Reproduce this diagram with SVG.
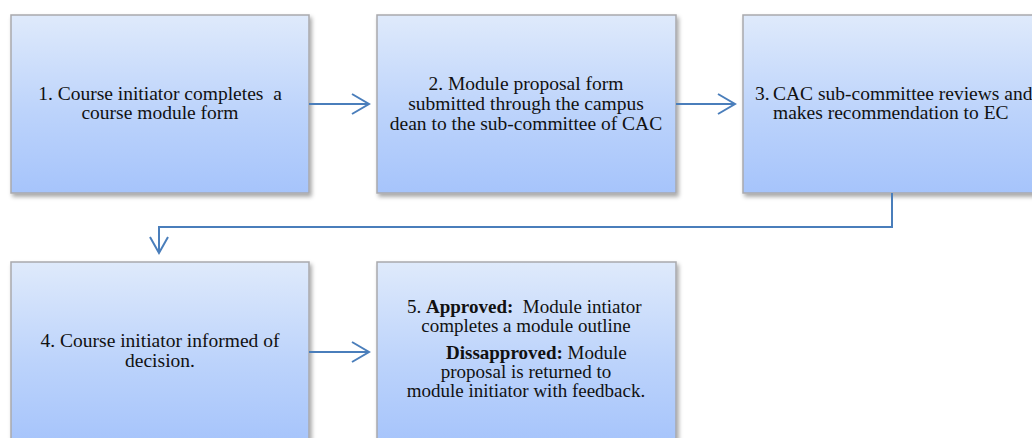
<svg xmlns="http://www.w3.org/2000/svg" width="1032" height="438" viewBox="0 0 1032 438" xml:space="preserve">
<defs>
<linearGradient id="g" x1="0" y1="0" x2="0" y2="1">
<stop offset="0" stop-color="#dfeafb"/>
<stop offset="0.55" stop-color="#bcd3fb"/>
<stop offset="1" stop-color="#a6c4fb"/>
</linearGradient>
<filter id="sh" x="-5%" y="-5%" width="115%" height="115%">
<feDropShadow dx="2" dy="3" stdDeviation="2" flood-color="#000" flood-opacity="0.35"/>
</filter>
</defs>
<style>
.box{fill:url(#g);stroke:#a9a9ad;stroke-width:1.5;filter:url(#sh)}
.t{font-family:"Liberation Serif","DejaVu Serif",serif;font-size:19.5px;fill:#111;white-space:pre}
.s{font-size:19px}
.c{text-anchor:middle}
.b{font-weight:bold}
.ln{fill:none;stroke:#4a7ebb;stroke-width:2}
</style>
<rect width="1032" height="438" fill="#fff"/>
<g id="node1">
<rect class="box" x="11" y="15" width="298" height="178"/>
<text class="t c" x="160" y="100">1. Course initiator completes  a</text>
<text class="t c" x="160" y="119">course module form</text>
</g>
<g id="node2">
<rect class="box" x="377" y="15" width="299" height="178"/>
<text class="t c" x="526" y="90">2. Module proposal form</text>
<text class="t c" x="526" y="110">submitted through the campus</text>
<text class="t c" x="526" y="130">dean to the sub-committee of CAC</text>
</g>
<g id="node3">
<rect class="box" x="743" y="15" width="299" height="178"/>
<text class="t" x="755" y="100">3.</text>
<text class="t" x="773" y="100">CAC sub-committee reviews and</text>
<text class="t" x="773" y="119">makes recommendation to EC</text>
</g>
<g id="node4">
<rect class="box" x="11" y="262" width="298" height="182"/>
<text class="t c" x="160" y="347">4. Course initiator informed of</text>
<text class="t c" x="160" y="367">decision.</text>
</g>
<g id="node5">
<rect class="box" x="377" y="262" width="299" height="182"/>
<text class="t s" x="407" y="313">5. <tspan class="b">Approved:</tspan>  Module intiator</text>
<text class="t s c" x="526" y="332">completes a module outline</text>
<text class="t s" x="446" y="359"><tspan class="b">Dissapproved:</tspan> Module</text>
<text class="t s c" x="526" y="378">proposal is returned to</text>
<text class="t s c" x="526" y="397">module initiator with feedback.</text>
</g>
<g id="connectors">
<path class="ln" d="M309 104H369M352 94L369 104L352 114"/>
<path class="ln" d="M676 104H735M718 94L735 104L718 114"/>
<path class="ln" d="M892 193V227H159V253M150 237L159 253L168 237"/>
<path class="ln" d="M309 352H369M352 342L369 352L352 362"/>
</g>
</svg>
